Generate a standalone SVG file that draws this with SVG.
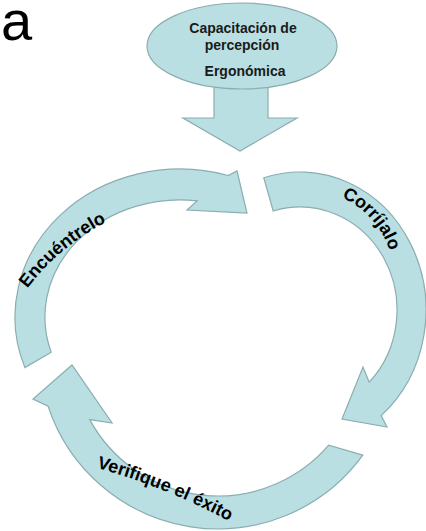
<svg xmlns="http://www.w3.org/2000/svg" width="426" height="531" viewBox="0 0 426 531">
  <style>
    .shape { fill: #B9DFE2; stroke: #8BADB0; stroke-width: 1.2; stroke-linejoin: miter; }
    .lbl { font-family: "Liberation Sans", Arial, sans-serif; font-weight: bold; font-size: 18px; fill: #000; }
    .ell { font-family: "Liberation Sans", Arial, sans-serif; font-weight: bold; font-size: 14px; fill: #1a1a1a; text-anchor: middle; }
  </style>
  <defs>
    <path id="p-enc" d="M2.5,329.8 A230,230 0 0 1 151.5,204.8"/>
    <path id="p-cor" d="M336.1,195.3 A88,88 0 0 1 391.4,256.7"/>
    <path id="p-ver" d="M59.6,458.7 A628,628 0 0 1 261.8,540.4"/>
  </defs>
  <rect width="426" height="531" fill="#fff"/>
  <text x="1" y="40" font-family="'Liberation Sans', Arial, sans-serif" font-size="56" fill="#000">a</text>

  <g id="connectors">
    <path id="arrow-down" class="shape" d="M214,80 L268,80 L268,118 L297,118 L240,151 L183,118 L214,118 Z"/>
  </g>

  <g id="node-capacitacion">
    <ellipse class="shape" cx="242" cy="46" rx="95" ry="43"/>
    <text class="ell" x="243" y="33">Capacitación de</text>
    <text class="ell" x="242" y="50">percepción</text>
    <text class="ell" x="245" y="76">Ergonómica</text>
  </g>

  <g id="node-encuentrelo">
    <path class="shape" d="M24.9,367.6 A165,148 0 0 1 228.2,175.5 L237,171 L247,213 L187,210 L197.1,200.9 A135,117 0 0 0 51.2,352.2 Z"/>
    <text class="lbl" text-anchor="middle"><textPath href="#p-enc" startOffset="50%">Encuéntrelo</textPath></text>
  </g>

  <g id="node-corrijalo">
    <path class="shape" d="M263.8,177.8 A126,138 0 0 1 381.1,415.6 L387,427 L342,419 L363,367 L369.2,382.2 A97,103 0 0 0 273.2,211 Z"/>
    <text class="lbl" text-anchor="middle"><textPath href="#p-cor" startOffset="50%">Corríjalo</textPath></text>
  </g>

  <g id="node-verifique">
    <path class="shape" d="M362.8,455.2 A179,179 0 0 1 48.1,406.2 L33,399 L72,365 L112,423 L89.7,419.6 A146,146 0 0 0 328.7,445.2 Z"/>
    <text class="lbl" text-anchor="middle"><textPath href="#p-ver" startOffset="50%">Verifique el éxito</textPath></text>
  </g>
</svg>
